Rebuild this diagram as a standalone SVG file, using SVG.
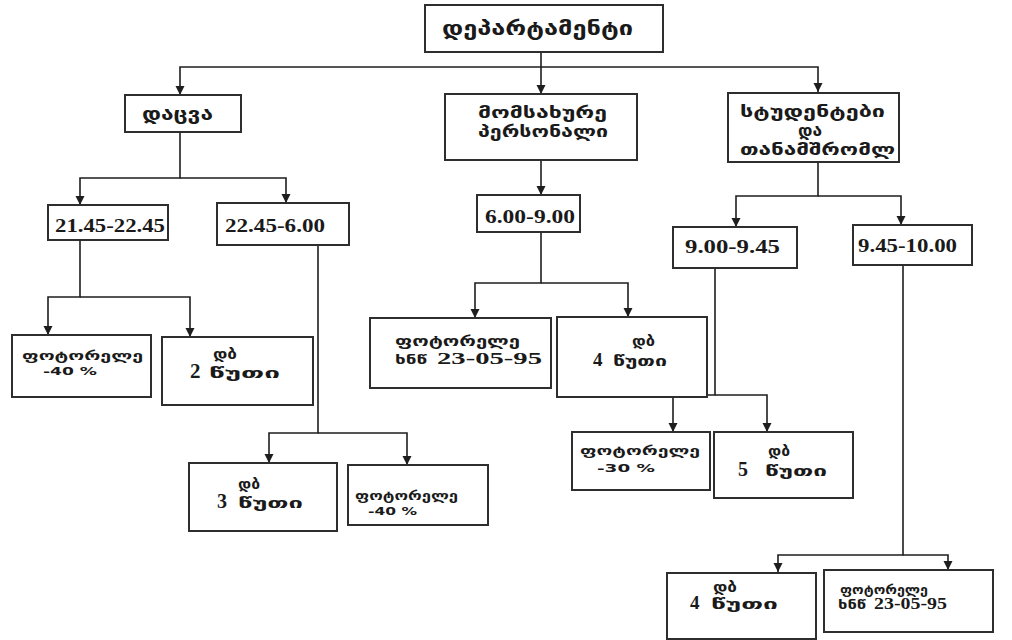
<svg xmlns="http://www.w3.org/2000/svg" width="1012" height="640" viewBox="0 0 1012 640">
  <style>
    .box { fill: #ffffff; stroke: #2e2e2e; stroke-width: 2; }
    .ln { fill: none; stroke: #1e1e1e; stroke-width: 1.6; }
    .ka { font-family: "DejaVu Sans", "Noto Sans", sans-serif; font-weight: bold; fill: #1a1a1a; }
    .num { font-family: "Liberation Serif", "Times New Roman", serif; font-weight: bold; fill: #1a1a1a; }
  </style>
  <defs>
    <marker id="arrow" viewBox="0 0 10 10" refX="10" refY="5" markerWidth="9" markerHeight="10" markerUnits="userSpaceOnUse" orient="auto">
      <path d="M0,0 L10,5 L0,10 z" fill="#1e1e1e"/>
    </marker>
  </defs>
  <rect width="1012" height="640" fill="#ffffff"/>

  <!-- connectors -->
  <g id="connectors">
    <path class="ln" d="M541,52 V67 H180 V95" marker-end="url(#arrow)"/>
    <path class="ln" d="M541,67 V94" marker-end="url(#arrow)"/>
    <path class="ln" d="M541,67 H818 V92" marker-end="url(#arrow)"/>

    <path class="ln" d="M180,132 V178 H80 V205" marker-end="url(#arrow)"/>
    <path class="ln" d="M180,178 H286 V203" marker-end="url(#arrow)"/>

    <path class="ln" d="M80,240 V297 H48 V335" marker-end="url(#arrow)"/>
    <path class="ln" d="M80,297 H190 V337" marker-end="url(#arrow)"/>

    <path class="ln" d="M318,245 V433 H269 V463" marker-end="url(#arrow)"/>
    <path class="ln" d="M318,433 H407 V465" marker-end="url(#arrow)"/>

    <path class="ln" d="M541,160 V195" marker-end="url(#arrow)"/>
    <path class="ln" d="M541,232 V283 H475 V318" marker-end="url(#arrow)"/>
    <path class="ln" d="M541,283 H628 V317" marker-end="url(#arrow)"/>

    <path class="ln" d="M818,162 V196 H736 V227" marker-end="url(#arrow)"/>
    <path class="ln" d="M818,196 H901 V225" marker-end="url(#arrow)"/>

    <path class="ln" d="M715,268 V395 H673 V432" marker-end="url(#arrow)"/>
    <path class="ln" d="M715,395 H767 V432" marker-end="url(#arrow)"/>

    <path class="ln" d="M903,265 V555 H778 V572" marker-end="url(#arrow)"/>
    <path class="ln" d="M903,555 H948 V570" marker-end="url(#arrow)"/>
  </g>

  <!-- department -->
  <g id="department">
    <rect class="box" x="425" y="5" width="238" height="47"/>
    <text class="ka" x="442" y="35" font-size="19" textLength="191" lengthAdjust="spacingAndGlyphs">დეპარტამენტი</text>
  </g>

  <!-- security branch -->
  <g id="security">
    <rect class="box" x="125" y="95" width="116" height="37"/>
    <text class="ka" x="142" y="120" font-size="17" textLength="71" lengthAdjust="spacingAndGlyphs">დაცვა</text>
  </g>
  <g id="shift-2145">
    <rect class="box" x="48" y="205" width="120" height="35"/>
    <text class="num" x="55" y="232" font-size="19" textLength="110" lengthAdjust="spacingAndGlyphs">21.45-22.45</text>
  </g>
  <g id="shift-2245">
    <rect class="box" x="217" y="203" width="132" height="42"/>
    <text class="num" x="225" y="232" font-size="19" textLength="100" lengthAdjust="spacingAndGlyphs">22.45-6.00</text>
  </g>
  <g id="relay-40a">
    <rect class="box" x="12" y="335" width="139" height="62"/>
    <text class="ka" x="22" y="360" font-size="12" textLength="121" lengthAdjust="spacingAndGlyphs">ფოტორელე</text>
    <text class="ka" x="43" y="375" font-size="11" textLength="54" lengthAdjust="spacingAndGlyphs">-40 %</text>
  </g>
  <g id="db-2">
    <rect class="box" x="162" y="337" width="151" height="68"/>
    <text class="ka" x="213" y="359" font-size="14" textLength="24" lengthAdjust="spacingAndGlyphs">დბ</text>
    <text class="num" x="190" y="378" font-size="21">2</text>
    <text class="ka" x="209" y="378" font-size="14" textLength="71" lengthAdjust="spacingAndGlyphs">წუთი</text>
  </g>
  <g id="db-3">
    <rect class="box" x="189" y="463" width="148" height="68"/>
    <text class="ka" x="238" y="489" font-size="14" textLength="22" lengthAdjust="spacingAndGlyphs">დბ</text>
    <text class="num" x="217" y="508" font-size="20">3</text>
    <text class="ka" x="238" y="508" font-size="14" textLength="65" lengthAdjust="spacingAndGlyphs">წუთი</text>
  </g>
  <g id="relay-40b">
    <rect class="box" x="348" y="465" width="140" height="60"/>
    <text class="ka" x="355" y="500" font-size="12" textLength="103" lengthAdjust="spacingAndGlyphs">ფოტორელე</text>
    <text class="ka" x="368" y="515" font-size="11" textLength="49" lengthAdjust="spacingAndGlyphs">-40 %</text>
  </g>

  <!-- service personnel branch -->
  <g id="service">
    <rect class="box" x="445" y="94" width="192" height="66"/>
    <text class="ka" x="478" y="118" font-size="16" textLength="129" lengthAdjust="spacingAndGlyphs">მომსახურე</text>
    <text class="ka" x="478" y="137" font-size="16" textLength="130" lengthAdjust="spacingAndGlyphs">პერსონალი</text>
  </g>
  <g id="shift-600">
    <rect class="box" x="477" y="195" width="103" height="37"/>
    <text class="num" x="485" y="223" font-size="18" textLength="90" lengthAdjust="spacingAndGlyphs">6.00-9.00</text>
  </g>
  <g id="relay-date-a">
    <rect class="box" x="370" y="318" width="181" height="70"/>
    <text class="ka" x="395" y="346" font-size="14" textLength="125" lengthAdjust="spacingAndGlyphs">ფოტორელე</text>
    <text class="ka" x="395" y="364" font-size="13" textLength="32" lengthAdjust="spacingAndGlyphs">ხნწ</text>
    <text class="num" x="437" y="364" font-size="17" textLength="105" lengthAdjust="spacingAndGlyphs">23-05-95</text>
  </g>
  <g id="db-4a">
    <rect class="box" x="557" y="317" width="150" height="80"/>
    <text class="ka" x="632" y="346" font-size="14" textLength="23" lengthAdjust="spacingAndGlyphs">დბ</text>
    <text class="num" x="593" y="366" font-size="19">4</text>
    <text class="ka" x="613" y="366" font-size="14" textLength="54" lengthAdjust="spacingAndGlyphs">წუთი</text>
  </g>

  <!-- students and staff branch -->
  <g id="students">
    <rect class="box" x="728" y="93" width="171" height="69"/>
    <text class="ka" x="740" y="117" font-size="16" textLength="145" lengthAdjust="spacingAndGlyphs">სტუდენტები</text>
    <text class="ka" x="798" y="136" font-size="16" textLength="24" lengthAdjust="spacingAndGlyphs">და</text>
    <text class="ka" x="740" y="155" font-size="16" textLength="155" lengthAdjust="spacingAndGlyphs">თანამშრომლ</text>
  </g>
  <g id="shift-900">
    <rect class="box" x="673" y="227" width="124" height="41"/>
    <text class="num" x="685" y="253" font-size="18" textLength="95" lengthAdjust="spacingAndGlyphs">9.00-9.45</text>
  </g>
  <g id="shift-945">
    <rect class="box" x="853" y="225" width="119" height="40"/>
    <text class="num" x="858" y="252" font-size="18" textLength="99" lengthAdjust="spacingAndGlyphs">9.45-10.00</text>
  </g>
  <g id="relay-30">
    <rect class="box" x="572" y="432" width="138" height="58"/>
    <text class="ka" x="580" y="455" font-size="12" textLength="120" lengthAdjust="spacingAndGlyphs">ფოტორელე</text>
    <text class="ka" x="597" y="472" font-size="11" textLength="58" lengthAdjust="spacingAndGlyphs">-30 %</text>
  </g>
  <g id="db-5">
    <rect class="box" x="714" y="432" width="139" height="66"/>
    <text class="ka" x="768" y="456" font-size="14" textLength="22" lengthAdjust="spacingAndGlyphs">დბ</text>
    <text class="num" x="738" y="476" font-size="20">5</text>
    <text class="ka" x="765" y="476" font-size="14" textLength="62" lengthAdjust="spacingAndGlyphs">წუთი</text>
  </g>
  <g id="db-4b">
    <rect class="box" x="667" y="573" width="149" height="66"/>
    <text class="ka" x="713" y="592" font-size="14" textLength="24" lengthAdjust="spacingAndGlyphs">დბ</text>
    <text class="num" x="690" y="609" font-size="19">4</text>
    <text class="ka" x="711" y="609" font-size="14" textLength="67" lengthAdjust="spacingAndGlyphs">წუთი</text>
  </g>
  <g id="relay-date-b">
    <rect class="box" x="824" y="570" width="169" height="62"/>
    <text class="ka" x="840" y="594" font-size="13" textLength="88" lengthAdjust="spacingAndGlyphs">ფოტორელე</text>
    <text class="ka" x="838" y="609" font-size="12" textLength="28" lengthAdjust="spacingAndGlyphs">ხნწ</text>
    <text class="num" x="874" y="609" font-size="16" textLength="73" lengthAdjust="spacingAndGlyphs">23-05-95</text>
  </g>
</svg>
